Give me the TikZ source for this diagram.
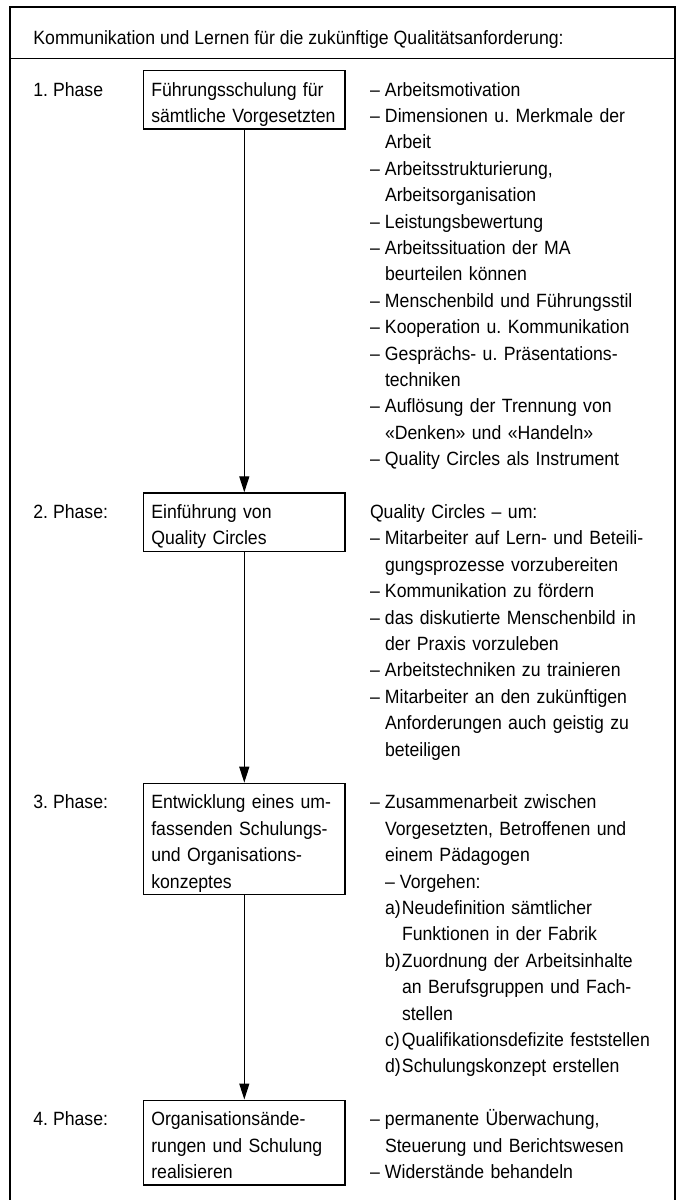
\documentclass[tikz,border=0pt]{standalone}
\usepackage{fontspec}
\setmainfont[FakeStretch=0.92]{Liberation Sans}
\usepackage{tikz}
\usetikzlibrary{positioning,arrows.meta}

\newcommand{\ldash}{\makebox[7.5pt][l]{–}}
\newcommand{\lind}{\hspace*{7.5pt}}
\newcommand{\lstep}[1]{\makebox[8.5pt][l]{#1}}
\frenchspacing

\begin{document}
\begin{tikzpicture}[x=0.5pt, y=-0.5pt,
    every node/.style={font=\fontsize{9.6}{13.2}\selectfont},
    phasebox/.style={draw, line width=0.7pt, text width=93pt, align=left,
      inner xsep=3.8pt, inner ysep=3.3pt, text height=9.4pt, anchor=base west},
    phaselabel/.style={inner sep=0pt, anchor=base west},
    itemlist/.style={inner sep=0pt, text width=155pt, align=left, anchor=base west},
    flow/.style={line width=0.6pt, -{Triangle[length=8pt,width=5pt]}}]
    \useasboundingbox (0,0) rectangle (676,1200);

    \draw[line width=0.9pt] (10,1200) |- (675,7) -- (675,1200);
    \draw[line width=0.9pt] (10,58.5) -- (675,58.5);
    \node[phaselabel] (title) at (33,44) {Kommunikation und Lernen für die zukünftige Qualitätsanforderung:};

    \node[phasebox, text depth=13.2pt] (p1) at (143,96) {Führungsschulung für\\sämtliche Vorgesetzten};
    \node[phasebox, text depth=13.2pt] (p2) at (143,518.4) {Einführung von\\Quality Circles};
    \node[phasebox, text depth=39.6pt] (p3) at (143,808.8) {Entwicklung eines um-\\fassenden Schulungs-\\und Organisations-\\konzeptes};
    \node[phasebox, text depth=26.4pt] (p4) at (143,1125.6) {Organisationsände-\\rungen und Schulung\\realisieren};

    \node[phaselabel, left=55pt of p1.base west, anchor=base west] (l1) {1. Phase};
    \node[phaselabel, left=55pt of p2.base west, anchor=base west] (l2) {2. Phase:};
    \node[phaselabel, left=55pt of p3.base west, anchor=base west] (l3) {3. Phase:};
    \node[phaselabel, left=55pt of p4.base west, anchor=base west] (l4) {4. Phase:};

    \node[itemlist, right=12pt of p1.base east, anchor=base west] (t1) {%
      \ldash Arbeitsmotivation\\
      \ldash Dimensionen u. Merkmale der\\
      \lind Arbeit\\
      \ldash Arbeitsstrukturierung,\\
      \lind Arbeitsorganisation\\
      \ldash Leistungsbewertung\\
      \ldash Arbeitssituation der MA\\
      \lind beurteilen können\\
      \ldash Menschenbild und Führungsstil\\
      \ldash Kooperation u. Kommunikation\\
      \ldash Gesprächs- u. Präsentations-\\
      \lind techniken\\
      \ldash Auflösung der Trennung von\\
      \lind «Denken» und «Handeln»\\
      \ldash Quality Circles als Instrument};
    \node[itemlist, right=12pt of p2.base east, anchor=base west] (t2) {%
      Quality Circles – um:\\
      \ldash Mitarbeiter auf Lern- und Beteili-\\
      \lind gungsprozesse vorzubereiten\\
      \ldash Kommunikation zu fördern\\
      \ldash das diskutierte Menschenbild in\\
      \lind der Praxis vorzuleben\\
      \ldash Arbeitstechniken zu trainieren\\
      \ldash Mitarbeiter an den zukünftigen\\
      \lind Anforderungen auch geistig zu\\
      \lind beteiligen};
    \node[itemlist, right=12pt of p3.base east, anchor=base west] (t3) {%
      \ldash Zusammenarbeit zwischen\\
      \lind Vorgesetzten, Betroffenen und\\
      \lind einem Pädagogen\\
      \lind\ldash Vorgehen:\\
      \lind\lstep{a)}Neudefinition sämtlicher\\
      \lind\lstep{}Funktionen in der Fabrik\\
      \lind\lstep{b)}Zuordnung der Arbeitsinhalte\\
      \lind\lstep{}an Berufsgruppen und Fach-\\
      \lind\lstep{}stellen\\
      \lind\lstep{c)}Qualifikationsdefizite feststellen\\
      \lind\lstep{d)}Schulungskonzept erstellen};
    \node[itemlist, right=12pt of p4.base east, anchor=base west] (t4) {%
      \ldash permanente Überwachung,\\
      \lind Steuerung und Berichtswesen\\
      \ldash Widerstände behandeln};

    \draw[flow] (p1.south) -- (p2.north);
    \draw[flow] (p2.south) -- (p3.north);
    \draw[flow] (p3.south) -- (p4.north);
\end{tikzpicture}
\end{document}
